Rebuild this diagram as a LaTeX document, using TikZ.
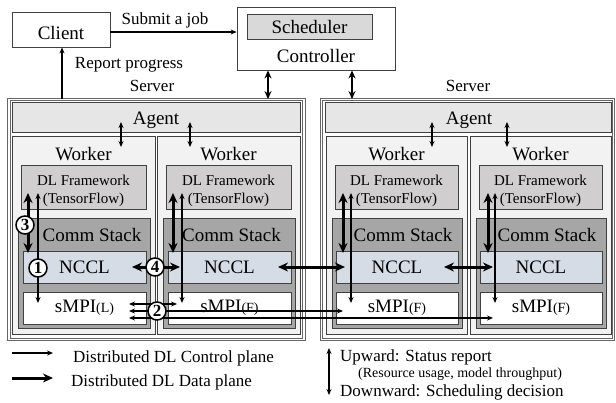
\documentclass[tikz,border=0pt]{standalone}
\usepackage{fontspec}
\setmainfont{Liberation Serif}
\usepackage{xcolor}
\usepackage{tikz}
\usetikzlibrary{arrows.meta}

\definecolor{wkfill}{HTML}{F2F2F2}
\definecolor{agfill}{HTML}{E7E6E6}
\definecolor{dlfill}{HTML}{D0CECE}
\definecolor{csfill}{HTML}{A6A6A6}
\definecolor{ncfill}{HTML}{D6DCE5}
\definecolor{scfill}{HTML}{D9D9D9}
\definecolor{edge}{HTML}{404040}

\begin{document}
\begin{tikzpicture}[x=1pt,y=-1pt,>={Stealth[length=6pt,width=5pt]},
  box/.style={draw=edge,line width=0.8pt,inner sep=0pt},
  srv/.style={draw=black!60,line width=0.8pt,double=white,double distance=1.8pt,fill=white,inner sep=0pt},
  big/.style={font=\fontsize{19}{21}\selectfont,inner sep=0pt},
  mid/.style={font=\fontsize{17}{19}\selectfont,inner sep=0pt},
  sml/.style={font=\fontsize{15}{18}\selectfont,inner sep=0pt,align=center},
  num/.style={circle,draw,line width=1.5pt,fill=white,inner sep=0pt,minimum size=18pt,font=\fontsize{17}{17}\selectfont\bfseries},
  ctl/.style={<->,line width=1.1pt},
  dat/.style={{Stealth[length=10pt,width=9pt]}-{Stealth[length=10pt,width=9pt]},line width=3pt},
  sig/.style={{Stealth[length=8pt,width=7pt]}-{Stealth[length=8pt,width=7pt]},line width=1.8pt}]
  \useasboundingbox (0,0) rectangle (616,402);

  \node[box,minimum width=98pt,minimum height=35pt] (client) at (61,29.5) {};
  \node[big,anchor=base] (clientlbl) at (61,39) {Client};
  \node[box,minimum width=158pt,minimum height=63pt] (ctrl) at (316,38.5) {};
  \node[box,fill=scfill,minimum width=125pt,minimum height=25pt,big] (sched) at (309.5,26.5) {Scheduler};
  \node[big,anchor=base] (ctrllbl) at (316,62) {Controller};
  \node[mid,anchor=base] (sublbl) at (165,24) {Submit a job};
  \node[mid,anchor=base] (replbl) at (129,68) {Report progress};
  \node[mid,anchor=base] (srvAlbl) at (152,91) {Server};
  \node[mid,anchor=base] (srvBlbl) at (468,91) {Server};

  \node[srv,minimum width=295pt,minimum height=240pt] (srvA) at (156.5,219.5) {};
  \node[srv,minimum width=292pt,minimum height=240pt] (srvB) at (467.5,219.5) {};
  \node[box,fill=agfill,minimum width=288pt,minimum height=30pt] (agA) at (156,117) {};
  \node[box,fill=agfill,minimum width=286pt,minimum height=30pt] (agB) at (468,117) {};
  \node[big,anchor=base] (agAlbl) at (156,124) {Agent};
  \node[big,anchor=base] (agBlbl) at (469,124) {Agent};

  \node[box,fill=wkfill,minimum width=143pt,minimum height=198pt] (wA1) at (83.5,235) {};
  \node[box,fill=wkfill,minimum width=143pt,minimum height=198pt] (wA2) at (228.5,235) {};
  \node[box,fill=wkfill,minimum width=141pt,minimum height=198pt] (wB1) at (396.5,235) {};
  \node[box,fill=wkfill,minimum width=141pt,minimum height=198pt] (wB2) at (540.5,235) {};
  \node[big,anchor=base] (wA1lbl) at (83.5,160) {Worker};
  \node[big,anchor=base] (wA2lbl) at (228.5,160) {Worker};
  \node[big,anchor=base] (wB1lbl) at (396.5,160) {Worker};
  \node[big,anchor=base] (wB2lbl) at (540.5,160) {Worker};

  \node[box,fill=dlfill,minimum width=125pt,minimum height=44pt] (dlA1) at (83.5,187) {};
  \node[box,fill=dlfill,minimum width=125pt,minimum height=44pt] (dlA2) at (228.5,187) {};
  \node[box,fill=dlfill,minimum width=123pt,minimum height=44pt] (dlB1) at (396.5,187) {};
  \node[box,fill=dlfill,minimum width=123pt,minimum height=44pt] (dlB2) at (540.5,187) {};
  \node[sml] (dlA1lbl) at (83.5,190.5) {DL Framework\\(TensorFlow)};
  \node[sml] (dlA2lbl) at (228.5,190.5) {DL Framework\\(TensorFlow)};
  \node[sml] (dlB1lbl) at (396.5,190.5) {DL Framework\\(TensorFlow)};
  \node[sml] (dlB2lbl) at (540.5,190.5) {DL Framework\\(TensorFlow)};

  \node[box,fill=csfill,minimum width=132pt,minimum height=110pt] (csA1) at (84,273) {};
  \node[box,fill=csfill,minimum width=132pt,minimum height=110pt] (csA2) at (229,273) {};
  \node[box,fill=csfill,minimum width=130pt,minimum height=110pt] (csB1) at (397,273) {};
  \node[box,fill=csfill,minimum width=130pt,minimum height=110pt] (csB2) at (541,273) {};
  \node[big,anchor=base] (csA1lbl) at (92,241) {Comm Stack};
  \node[big,anchor=base] (csA2lbl) at (231.5,241) {Comm Stack};
  \node[big,anchor=base] (csB1lbl) at (403,241) {Comm Stack};
  \node[big,anchor=base] (csB2lbl) at (547,241) {Comm Stack};

  \node[box,fill=ncfill,minimum width=123pt,minimum height=32pt,big] (ncA1) at (84.5,267) {NCCL};
  \node[box,fill=ncfill,minimum width=123pt,minimum height=32pt,big] (ncA2) at (229.5,267) {NCCL};
  \node[box,fill=ncfill,minimum width=122pt,minimum height=32pt,big] (ncB1) at (397,267) {NCCL};
  \node[box,fill=ncfill,minimum width=122pt,minimum height=32pt,big] (ncB2) at (541,267) {NCCL};
  \node[box,fill=white,minimum width=123pt,minimum height=32pt,big] (smA1) at (84.5,308) {sMPI{\fontsize{14}{14}\selectfont(L)}};
  \node[box,fill=white,minimum width=123pt,minimum height=32pt,big] (smA2) at (229.5,308) {sMPI{\fontsize{14}{14}\selectfont(F)}};
  \node[box,fill=white,minimum width=122pt,minimum height=32pt,big] (smB1) at (397,308) {sMPI{\fontsize{14}{14}\selectfont(F)}};
  \node[box,fill=white,minimum width=122pt,minimum height=32pt,big] (smB2) at (541,308) {sMPI{\fontsize{14}{14}\selectfont(F)}};

  \coordinate (rp) at (62,0);
  \coordinate (sj) at (0,32);
  \coordinate (ccA) at (268,0);
  \coordinate (ccB) at (352,0);
  \draw[->,line width=1.1pt] (client.east |- sj) -- (ctrl.west |- sj);
  \draw[->,line width=1.1pt] (rp |- srvA.north) -- (rp |- client.south);
  \draw[sig] (ccA |- ctrl.south) -- (ccA |- srvA.north);
  \draw[sig] (ccB |- ctrl.south) -- (ccB |- srvB.north);

  \coordinate (gA1a) at (121,122); \coordinate (gA1b) at (121,147);
  \coordinate (gA2a) at (190,122); \coordinate (gA2b) at (190,147);
  \coordinate (gB1a) at (432,122); \coordinate (gB1b) at (432,147);
  \coordinate (gB2a) at (507,122); \coordinate (gB2b) at (507,147);
  \draw[<->,line width=1.5pt] (gA1a) -- (gA1b);
  \draw[<->,line width=1.5pt] (gA2a) -- (gA2b);
  \draw[<->,line width=1.5pt] (gB1a) -- (gB1b);
  \draw[<->,line width=1.5pt] (gB2a) -- (gB2b);

  \coordinate (tA1a) at (28,193); \coordinate (tA1b) at (28,253);
  \coordinate (tA2a) at (173,193); \coordinate (tA2b) at (173,253);
  \coordinate (tB1a) at (343,193); \coordinate (tB1b) at (343,253);
  \coordinate (tB2a) at (488,193); \coordinate (tB2b) at (488,253);
  \coordinate (cA1a) at (38,193); \coordinate (cA1b) at (38,303);
  \coordinate (cA2a) at (182,193); \coordinate (cA2b) at (182,303);
  \coordinate (cB1a) at (351,193); \coordinate (cB1b) at (351,303);
  \coordinate (cB2a) at (495,193); \coordinate (cB2b) at (495,303);
  \draw[dat] (tA1a) -- (tA1b);
  \draw[dat] (tA2a) -- (tA2b);
  \draw[dat] (tB1a) -- (tB1b);
  \draw[dat] (tB2a) -- (tB2b);
  \draw[ctl] (cA1a) -- (cA1b);
  \draw[ctl] (cA2a) -- (cA2b);
  \draw[ctl] (cB1a) -- (cB1b);
  \draw[ctl] (cB2a) -- (cB2b);

  \coordinate (hA1) at (132,267); \coordinate (hA2) at (180,267);
  \coordinate (hA3) at (278,267); \coordinate (hB1) at (345,267);
  \coordinate (hB2) at (444,267); \coordinate (hB3) at (493,267);
  \draw[dat] (hA1) -- (hA2);
  \draw[dat] (hA3) -- (hB1);
  \draw[dat] (hB2) -- (hB3);

  \coordinate (mL1) at (129,304); \coordinate (mR1) at (177,304);
  \coordinate (mL2) at (129,311); \coordinate (mR2) at (343,311);
  \coordinate (mL3) at (129,318); \coordinate (mR3) at (493,318);
  \draw[ctl] (mL1) -- (mR1);
  \draw[ctl] (mL2) -- (mR2);
  \draw[ctl] (mL3) -- (mR3);

  \node[num] (n3) at (25,225) {3};
  \node[num] (n1) at (38,268) {1};
  \node[num] (n4) at (155,267) {4};
  \node[num] (n2) at (157,311) {2};

  \coordinate (lgCa) at (12,353); \coordinate (lgCb) at (53,353);
  \coordinate (lgDa) at (12,378); \coordinate (lgDb) at (53,378);
  \coordinate (lgUa) at (329,348); \coordinate (lgUb) at (329,395);
  \draw[->,line width=1.1pt] (lgCa) -- (lgCb);
  \draw[-{Stealth[length=10pt,width=9pt]},line width=3pt] (lgDa) -- (lgDb);
  \draw[ctl] (lgUa) -- (lgUb);
  \node[mid,anchor=base west] (lgClbl) at (73,362) {Distributed DL Control plane};
  \node[mid,anchor=base west] (lgDlbl) at (71,386) {Distributed DL Data plane};
  \node[mid,anchor=base west] (lgUlbl) at (340,361) {Upward: Status report};
  \node[font=\fontsize{14}{16}\selectfont,inner sep=0pt,anchor=base west] (lgRlbl) at (358,377) {(Resource usage, model throughput)};
  \node[mid,anchor=base west] (lgWlbl) at (340,396.5) {Downward: Scheduling decision};
\end{tikzpicture}
\end{document}
